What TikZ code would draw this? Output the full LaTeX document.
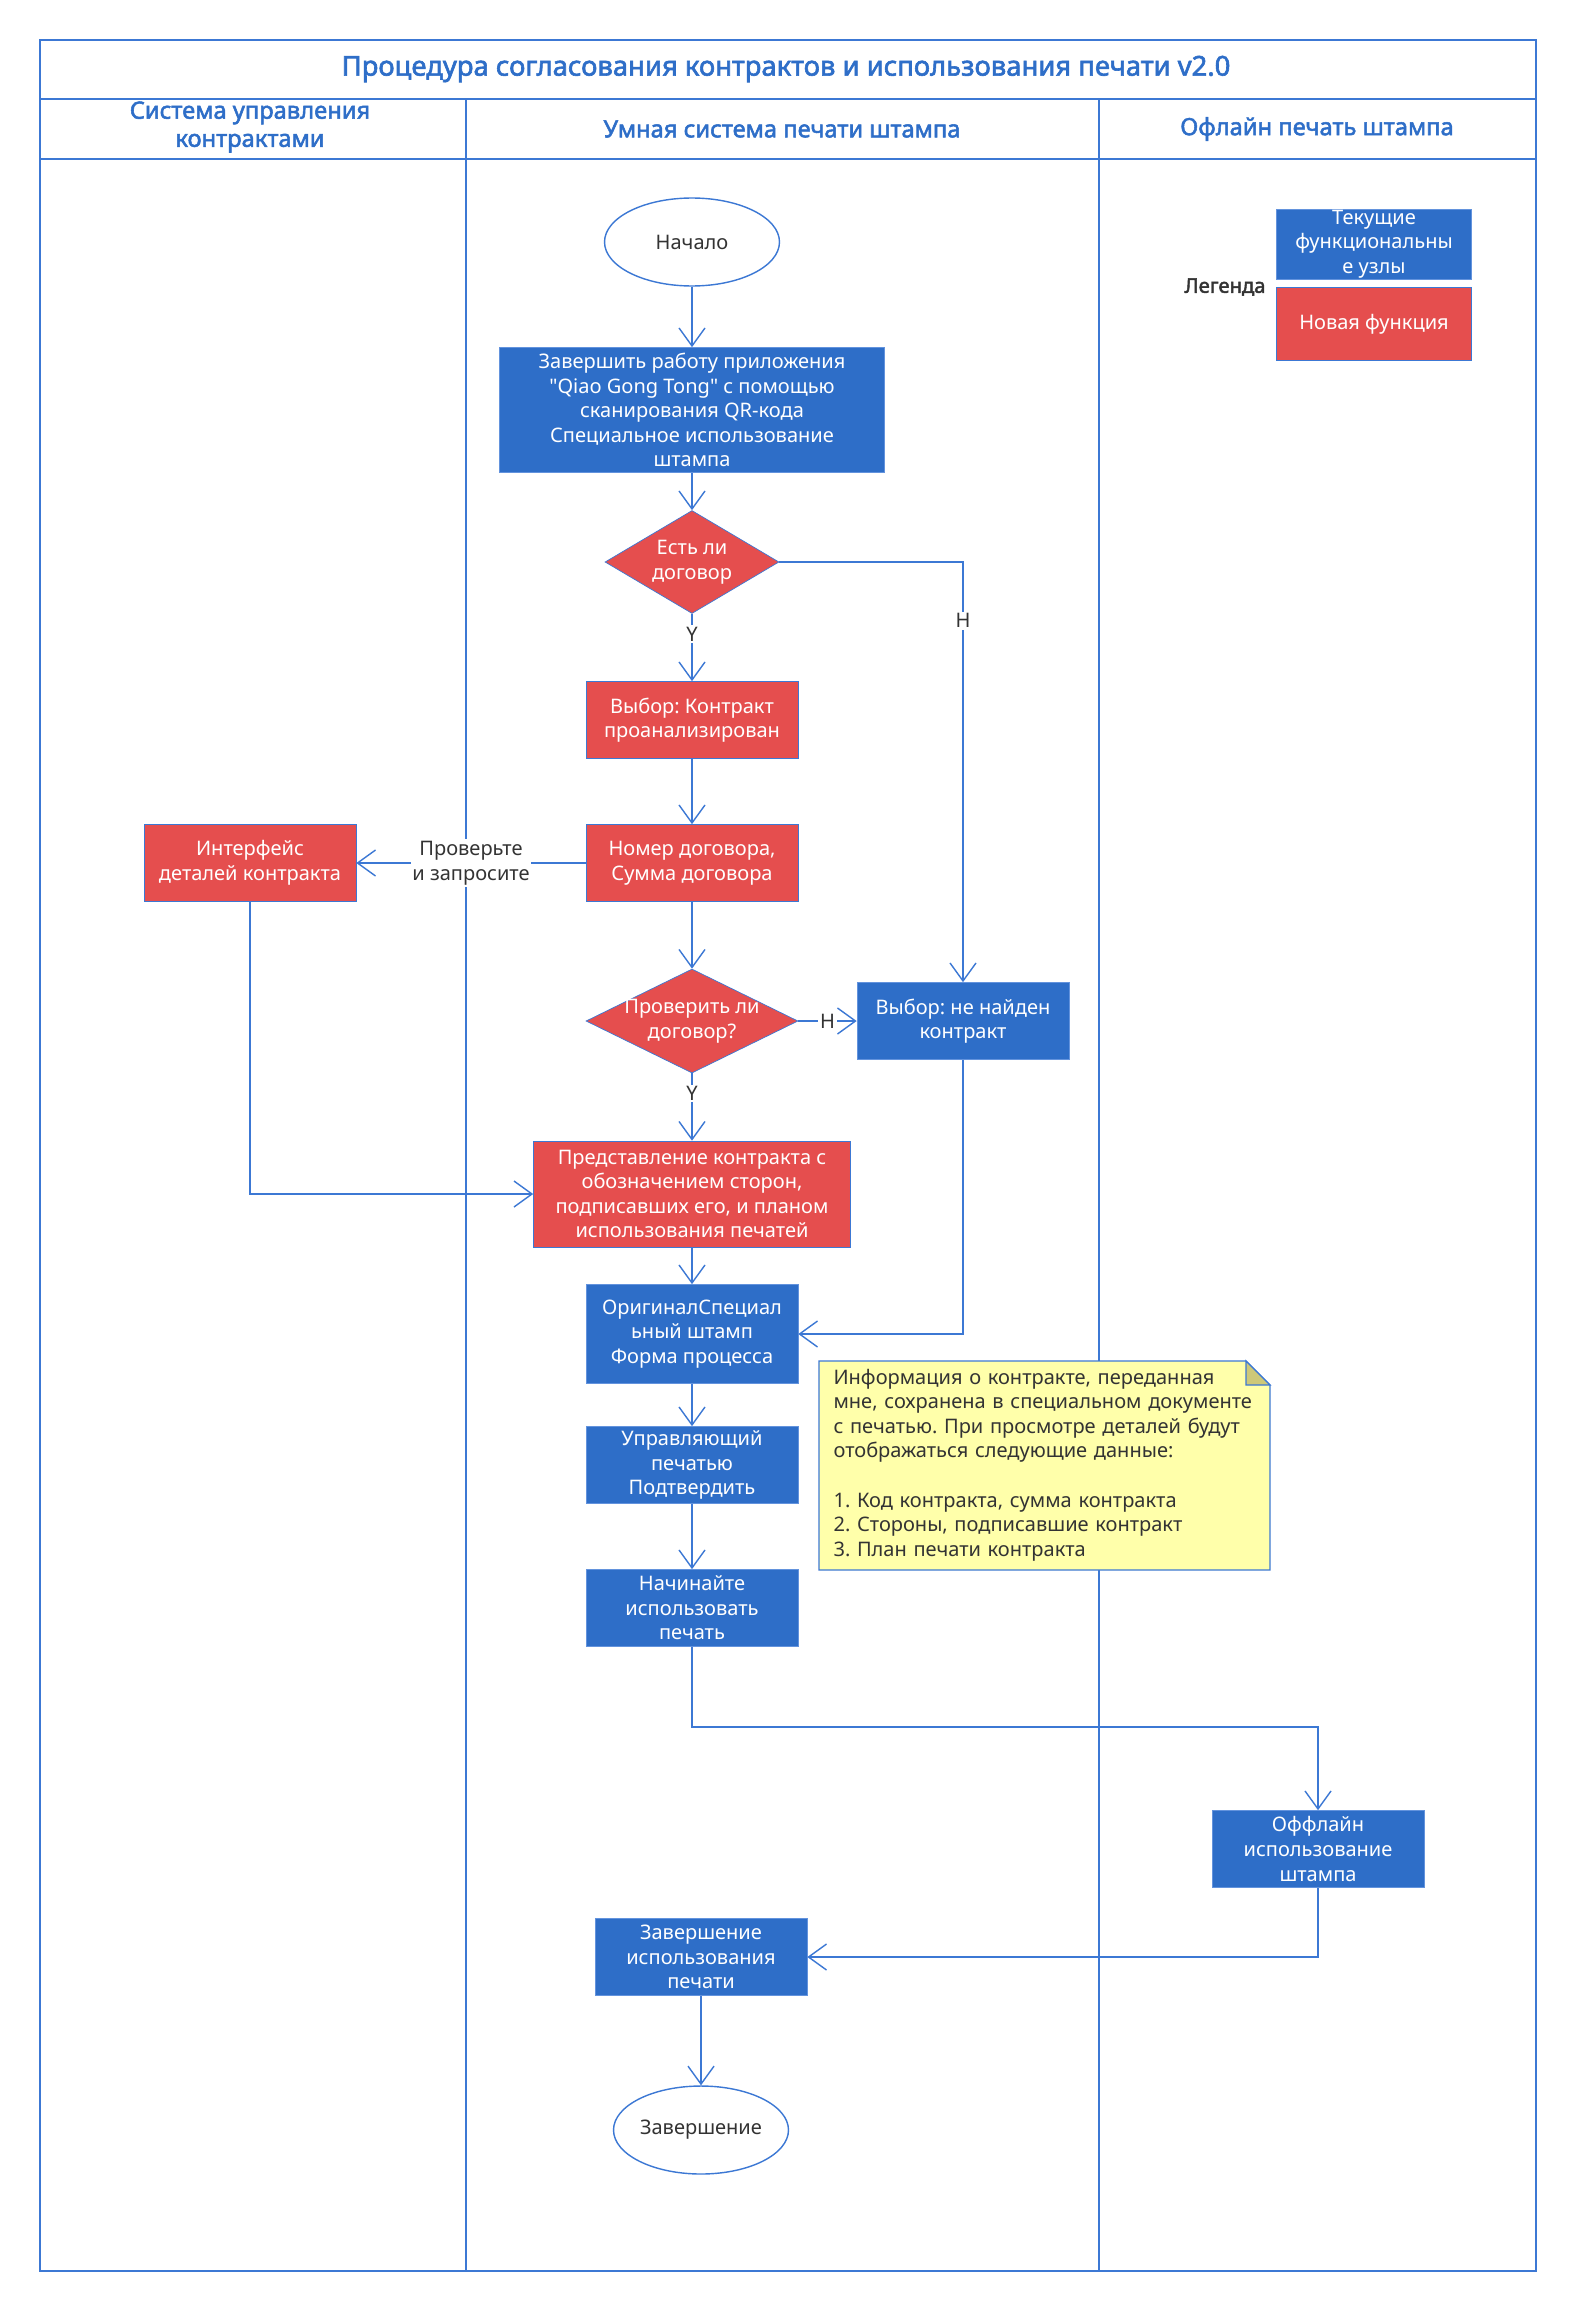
\documentclass[tikz,border=0pt]{standalone}
\usepackage{fontspec}
\newfontfamily\uifont{Noto Sans}[AutoFakeBold=2.2]
\usetikzlibrary{shapes.geometric,arrows.meta}
\definecolor{lanecol}{RGB}{60,120,212}
\definecolor{bluebox}{RGB}{46,110,200}
\definecolor{redbox}{RGB}{229,78,78}
\definecolor{notefill}{RGB}{255,255,170}
\definecolor{foldfill}{RGB}{205,200,120}
\definecolor{inkcol}{RGB}{51,51,51}
\frenchspacing

\begin{document}
\begin{tikzpicture}[x=0.02cm,y=-0.02cm,
  font=\uifont\fontsize{11.4}{14}\selectfont,
  every node/.style={align=center},
  lane/.style={draw=lanecol,line width=0.8pt},
  flow/.style={draw=lanecol,line width=0.8pt,-{Straight Barb[length=3.6mm,width=5.2mm]}},
  oldbox/.style={rectangle,fill=bluebox,draw=lanecol!80,text=white,minimum width=4.24cm,minimum height=1.54cm,inner sep=0pt},
  newbox/.style={oldbox,fill=redbox,draw=lanecol},
  terminal/.style={ellipse,draw=lanecol,line width=0.8pt,fill=white,text=inkcol,minimum width=3.5cm,minimum height=1.76cm,inner sep=0pt},
  choice/.style={diamond,aspect=2.04,fill=redbox,draw=lanecol,text=white,inner sep=-1.3pt,minimum width=4.24cm,minimum height=2.08cm},
  tag/.style={fill=white,text=inkcol,inner sep=1pt},
  headtext/.style={text=bluebox,font=\uifont\bfseries\fontsize{13.5}{16}\selectfont}]

\path[use as bounding box,fill=white] (0,0) rectangle (1572,2308);

\draw[lane] (40,40) rectangle (1536,2271);
\draw[lane] (40,99) -- (1536,99);
\draw[lane] (40,159) -- (1536,159);
\draw[lane] (466,99) -- (466,2271);
\draw[lane] (1099,99) -- (1099,2271);

\node[headtext,font=\uifont\bfseries\fontsize{15.6}{18}\selectfont] (title) at (786,69) {Процедура согласования контрактов и использования печати v2.0};
\node[headtext] (lanea) at (250,127) {Система управления\\контрактами};
\node[headtext] (laneb) at (782,129) {Умная система печати штампа};
\node[headtext] (lanec) at (1317,129) {Офлайн печать штампа};

\node[oldbox,minimum width=3.9cm,minimum height=1.4cm] (legold) at (1374,244) {Текущие\\функциональны\\е узлы};
\node[newbox,minimum width=3.9cm,minimum height=1.46cm] (legnew) at (1374,324) {Новая функция};
\node[text=inkcol,font=\uifont\bfseries\fontsize{11.5}{14}\selectfont] (legend) at (1225,287) {Легенда};

\draw[lane,fill=notefill] (819,1361) -- (1246,1361) -- (1270,1385) -- (1270,1570) -- (819,1570) -- cycle;
\draw[lane,fill=foldfill] (1246,1361) -- (1246,1385) -- (1270,1385) -- cycle;
\node[text=inkcol,align=left,text width=8.42cm,inner sep=0pt] (memo) at (1044,1465) {Информация о контракте, переданная\\мне, сохранена в специальном документе\\с печатью. При просмотре деталей будут\\отображаться следующие данные:\\[14pt]1. Код контракта, сумма контракта\\2. Стороны, подписавшие контракт\\3. План печати контракта};

\node[terminal] (start) at (692,242) {Начало};
\node[oldbox,minimum width=7.7cm,minimum height=2.5cm] (scan) at (692,410) {Завершить работу приложения\\"Qiao Gong Tong" с помощью\\сканирования QR-кода\\Специальное использование\\штампа};
\node[choice,minimum width=3.48cm,minimum height=2.06cm] (hascontract) at (692,562) {Есть ли\\договор};
\node[newbox] (picked) at (692,720) {Выбор: Контракт\\проанализирован};
\node[newbox] (number) at (692,863) {Номер договора,\\Сумма договора};
\node[newbox] (details) at (250,863) {Интерфейс\\деталей контракта};
\node[choice] (verify) at (692,1021) {Проверить ли\\договор?};
\node[oldbox] (notfound) at (963,1021) {Выбор: не найден\\контракт};
\node[newbox,minimum width=6.34cm,minimum height=2.12cm] (present) at (692,1194) {Представление контракта с\\обозначением сторон,\\подписавших его, и планом\\использования печатей};
\node[oldbox,minimum height=1.98cm] (original) at (692,1334) {ОригиналСпециал\\ьный штамп\\Форма процесса};
\node[oldbox] (confirm) at (692,1465) {Управляющий\\печатью\\Подтвердить};
\node[oldbox] (usestamp) at (692,1608) {Начинайте\\использовать\\печать};
\node[oldbox] (offline) at (1318,1849) {Оффлайн\\использование\\штампа};
\node[oldbox] (finish) at (701,1957) {Завершение\\использования\\печати};
\node[terminal] (stop) at (701,2130) {Завершение};

\draw[flow] (start) -- (scan);
\draw[flow] (scan) -- (hascontract);
\draw[flow] (hascontract) -- node[tag,pos=0.3] (yesa) {Y} (picked);
\draw[flow] (hascontract.east) -| node[tag,pos=0.57] (noa) {Н} (notfound.north);
\draw[flow] (picked) -- (number);
\draw[flow] (number) -- node[tag] (ask) {Проверьте\\и запросите} (details);
\draw[flow] (number) -- (verify);
\draw[flow] (verify) -- node[tag] (nob) {Н} (notfound);
\draw[flow] (verify) -- node[tag,pos=0.3] (yesb) {Y} (present);
\draw[flow] (details.south) |- (present.west);
\draw[flow] (present) -- (original);
\draw[flow] (notfound.south) |- (original.east);
\draw[flow] (original) -- (confirm);
\draw[flow] (confirm) -- (usestamp);
\coordinate (bend) at (1000,1727);
\draw[flow] (usestamp.south) |- (bend) -| (offline.north);
\draw[flow] (offline.south) |- (finish.east);
\draw[flow] (finish) -- (stop);
\end{tikzpicture}
\end{document}
